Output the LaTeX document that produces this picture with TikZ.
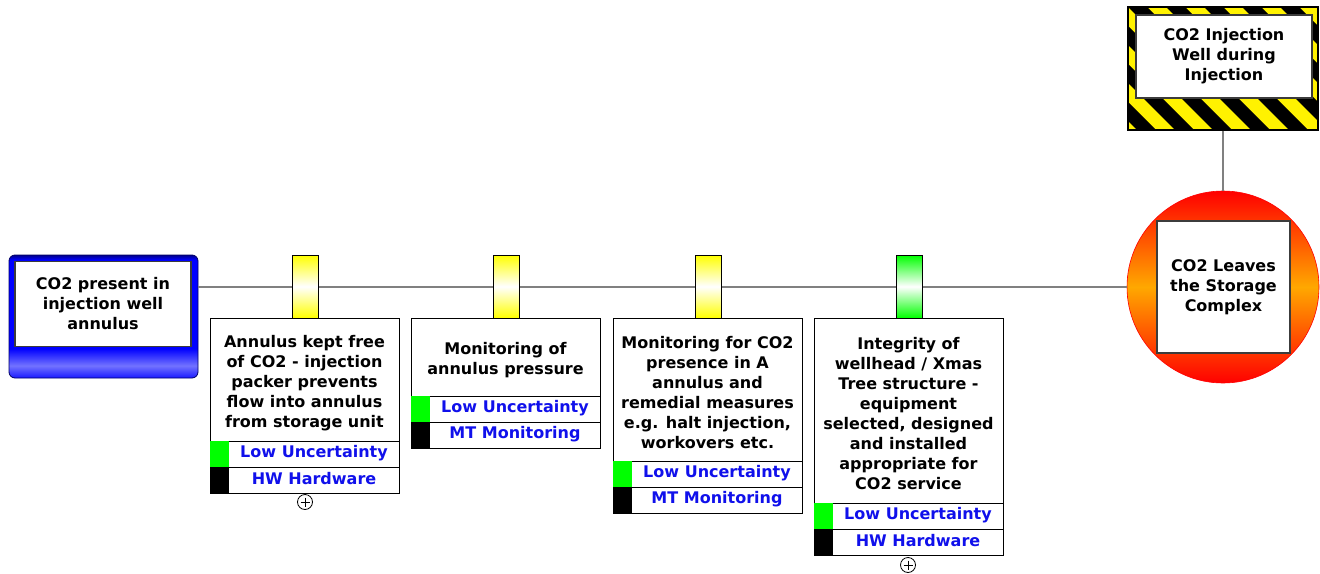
\documentclass[tikz,border=0pt]{standalone}
\usepackage{fontspec}
\setmainfont{DejaVu Sans}
\usetikzlibrary{calc}
\definecolor{linegray}{RGB}{128,128,128}
\definecolor{rowblue}{RGB}{16,16,235}
\definecolor{framegray}{RGB}{60,60,60}
\definecolor{goldorange}{RGB}{255,168,0}
\pgfdeclareverticalshading{causeshade}{100bp}{color(0bp)=(blue); color(25bp)=(blue!90!white); color(30bp)=(blue!55!white); color(37bp)=(blue); color(73bp)=(blue); color(75bp)=(blue!55!black); color(100bp)=(blue!55!black)}
\newcommand{\mybarrier}[6]{%
  \node[tab, top color=#4, bottom color=#4, middle color=white] (#1tab) at ({#2+95},286.5) {};
  \node[descbox, minimum height=#3pt] (#1) at ({#2+94.5},{318+#3/2}) {};
  \node[maintxt, inner sep=0pt] (#1x) at ({#2+94.5},{318+#3/2+3.5}) {#5};
  \node[rowbox] (#1u) at ({#2+94.5},{318+#3+13}) {};
  \node[sq, fill=green, anchor=north west] (#1ug) at (#1u.north west) {};
  \node[rowtxt] (#1ut) at ({#2+104},{318+#3+12}) {Low Uncertainty};
  \node[rowbox] (#1t) at ({#2+94.5},{318+#3+39}) {};
  \node[sq, fill=black, anchor=north west] (#1tg) at (#1t.north west) {};
  \node[rowtxt] (#1tt) at ({#2+104},{318+#3+38}) {#6};
}
\begin{document}
\begin{tikzpicture}[x=1pt,y=-1pt,
  conn/.style={draw=linegray, line width=2pt},
  maintxt/.style={font=\bfseries\fontsize{16}{20}\selectfont, align=center, text=black},
  tab/.style={draw=black, line width=0.8pt, minimum width=26pt, minimum height=63pt, inner sep=0pt},
  descbox/.style={draw=black, line width=0.9pt, fill=white, minimum width=189pt, inner sep=0pt},
  rowbox/.style={draw=black, line width=0.9pt, fill=white, minimum width=189pt, minimum height=26pt, inner sep=0pt},
  sq/.style={draw=none, minimum width=19pt, minimum height=26pt, inner sep=0pt},
  rowtxt/.style={font=\bfseries\fontsize{16}{18}\selectfont, text=rowblue, inner sep=0pt},
  plus/.style={draw=black, line width=0.8pt, circle, minimum size=15pt, inner sep=0pt,
    path picture={\draw[line width=0.8pt] ($(path picture bounding box.center)+(-4.5,0)$) -- ++(9,0) ($(path picture bounding box.center)+(0,-4.5)$) -- ++(0,9);}},
  innerbox/.style={draw=framegray, line width=1.5pt, fill=white, inner sep=0pt, maintxt},
]
\useasboundingbox (0,0) rectangle (1320,573);
\fill[white] (0,0) rectangle (1320,573);

% top event (circle)
\node[circle, draw=red, line width=0.6pt, minimum size=192pt, inner sep=0pt,
      top color=red, bottom color=red, middle color=goldorange] (top) at (1223,287) {};
% hazard
\node[draw=black, line width=1.2pt, fill=yellow, minimum width=190pt, minimum height=123pt, inner sep=0pt,
  path picture={\foreach \k in {-8,...,8} {\fill[black] ($(path picture bounding box.north west)+(\k*38,0)$) -- ++(19,0) -- ++(140,140) -- ++(-19,0) -- cycle;}}] (hazard) at (1223,68.5) {};
% cause
\node[draw=blue!40!black, line width=0.8pt, rounded corners=6pt, shading=causeshade, minimum width=189pt, minimum height=123pt, inner sep=0pt] (cause) at (103.5,316.5) {};

% connectors
\draw[conn] (cause.east |- top.west) -- (top.west);
\draw[conn] (hazard.south) -- (top.north);

% inner boxes
\node[innerbox, minimum width=176pt, minimum height=85pt] (causein) at (103,304) {CO2 present in\\injection well\\annulus};
\node[innerbox, minimum width=176pt, minimum height=83pt] (hazardin) at (1224,56.5) {CO2 Injection\\Well during\\Injection};
\node[innerbox, minimum width=133pt, minimum height=132pt] (topin) at (1223.5,287) {CO2 Leaves\\the Storage\\Complex};

% barriers
\mybarrier{ba}{210}{123}{yellow}{Annulus kept free\\of CO2 - injection\\packer prevents\\flow into annulus\\from storage unit}{HW Hardware}
\mybarrier{bb}{411}{78}{yellow}{Monitoring of\\annulus pressure}{MT Monitoring}
\mybarrier{bc}{613}{143}{yellow}{Monitoring for CO2\\presence in A\\annulus and\\remedial measures\\e.g. halt injection,\\workovers etc.}{MT Monitoring}
\mybarrier{bd}{814}{185}{green}{Integrity of\\wellhead / Xmas\\Tree structure -\\equipment\\selected, designed\\and installed\\appropriate for\\CO2 service}{HW Hardware}

\node[plus] (baplus) at (305,502) {};
\node[plus] (bdplus) at (908,565) {};
\end{tikzpicture}
\end{document}
